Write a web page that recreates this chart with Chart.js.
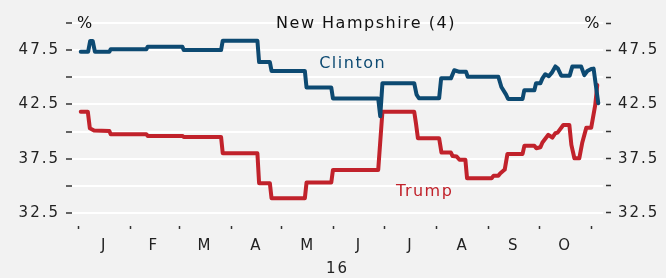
<!DOCTYPE html>
<html>
<head>
<meta charset="utf-8">
<script src="https://cdn.jsdelivr.net/npm/chart.js@4/dist/chart.umd.min.js"></script>
<style>
  html, body { margin: 0; padding: 0; background: #f2f2f2; }
  #wrap { width: 666px; height: 278px; }
</style>
</head>
<body>
<div id="wrap"><canvas id="chart"></canvas></div>
<script>
// days counted from 1 Jan 2016
var monthStarts = [0, 31, 60, 91, 121, 152, 182, 213, 244, 274, 305];
var monthMids   = [15.5, 45, 75.5, 106, 136.5, 167, 197.5, 228.5, 259, 289.5];
var monthLabels = ['J', 'F', 'M', 'A', 'M', 'J', 'J', 'A', 'S', 'O'];
var yTicks      = [32.5, 35, 37.5, 40, 42.5, 45, 47.5, 50];
var yLabels     = [32.5, 37.5, 42.5, 47.5];

var clintonDays = [1.6, 6.0, 7.2, 8.7, 10.0, 18.6, 19.4, 40.6, 41.4, 62.0, 62.8, 85.0, 86.0,
  106.6, 107.6, 114.0, 115.0, 134.8, 135.8, 150.5, 151.5, 178.4, 179.6, 180.9, 199.8, 201.2,
  202.6, 214.6, 215.8, 221.6, 223.6, 226.7, 230.6, 231.6, 249.8, 251.6, 254.4, 255.6, 264.2,
  265.2, 271.2, 272.2, 274.8, 276.0, 277.7, 279.8, 281.5, 283.7, 285.2, 287.2, 292.2, 293.8,
  299.0, 300.9, 302.7, 305.0, 306.4, 307.8, 309.2];
var clintonPct = [47.36, 47.36, 48.35, 48.35, 47.36, 47.36, 47.58, 47.58, 47.82, 47.82, 47.51, 47.51, 48.37,
  48.37, 46.4, 46.4, 45.58, 45.58, 44.05, 44.05, 43.05, 43.05, 41.4, 44.45, 44.45, 43.4,
  43.07, 43.07, 44.9, 44.9, 45.65, 45.5, 45.5, 45.05, 45.05, 44.1, 43.4, 43.0, 43.0,
  43.8, 43.8, 44.45, 44.45, 44.9, 45.28, 45.1, 45.4, 46.0, 45.8, 45.15, 45.15, 46.0,
  46.0, 45.2, 45.58, 45.76, 45.8, 44.2, 42.6];

var trumpDays = [1.6, 5.8, 7.0, 9.5, 18.6, 19.4, 40.6, 41.4, 62.0, 62.8, 85.0, 86.0, 106.6,
  107.6, 114.0, 115.0, 134.8, 135.8, 150.5, 151.5, 178.4, 180.9, 199.8, 200.8, 202.0, 214.6,
  216.0, 221.6, 222.6, 225.0, 226.7, 230.2, 231.2, 245.8, 247.0, 249.8, 251.0, 253.6, 255.2,
  264.2, 265.3, 271.2, 272.4, 274.8, 276.0, 279.5, 281.9, 283.7, 285.0, 288.4, 292.0, 293.2,
  295.0, 297.9, 299.7, 302.1, 305.0, 307.4, 308.6];
var trumpPct = [41.83, 41.83, 40.3, 40.1, 40.05, 39.75, 39.75, 39.6, 39.6, 39.5, 39.5, 38.0, 38.0,
  35.24, 35.24, 33.86, 33.86, 35.3, 35.3, 36.47, 36.47, 41.83, 41.83, 40.8, 39.38, 39.38,
  38.06, 38.06, 37.75, 37.7, 37.4, 37.4, 35.7, 35.7, 35.94, 35.94, 36.16, 36.5, 37.94,
  37.94, 38.7, 38.7, 38.46, 38.55, 39.0, 39.7, 39.45, 39.85, 39.9, 40.6, 40.6, 38.77,
  37.54, 37.54, 39.0, 40.36, 40.36, 42.45, 44.3];

var blue = '#0d4a72';
var red = '#c1222b';
var ink = '#222';
var fontName = '"DejaVu Sans", sans-serif';

function points(days, vals) {
  var out = [];
  for (var i = 0; i < days.length; i++) out.push({ x: days[i], y: vals[i] });
  return out;
}

var spacing = {
  id: 'spacing',
  beforeLayout: function(chart) { chart.ctx.letterSpacing = '2px'; },
  beforeDraw: function(chart) { chart.ctx.letterSpacing = '2px'; }
};

var texts = {
  id: 'texts',
  afterDraw: function(chart) {
    var ctx = chart.ctx;
    var xs = chart.scales.x, ys = chart.scales.y, area = chart.chartArea;
    ctx.save();
    ctx.letterSpacing = '1.5px';
    ctx.textBaseline = 'middle';
    ctx.font = '16px ' + fontName;
    ctx.fillStyle = '#111';
    ctx.textAlign = 'center';
    ctx.fillText('New Hampshire (4)', 366, ys.getPixelForValue(50) + 1);
    ctx.textAlign = 'left';
    ctx.fillText('%', area.left + 5, ys.getPixelForValue(50) + 1);
    ctx.textAlign = 'right';
    ctx.fillText('%', area.right - 2, ys.getPixelForValue(50) + 1);
    ctx.textAlign = 'center';
    ctx.fillStyle = blue;
    ctx.fillText('Clinton', xs.getPixelForValue(163.2), ys.getPixelForValue(46.2));
    ctx.fillStyle = red;
    ctx.fillText('Trump', xs.getPixelForValue(206), ys.getPixelForValue(34.44));
    ctx.restore();
  }
};

var tickFont = { family: fontName, size: 15 };

new Chart(document.getElementById('chart'), {
  type: 'line',
  data: {
    datasets: [
      { label: 'Clinton', data: points(clintonDays, clintonPct), borderColor: blue, borderWidth: 4,
        pointRadius: 0, tension: 0, borderJoinStyle: 'round', borderCapStyle: 'round' },
      { label: 'Trump', data: points(trumpDays, trumpPct), borderColor: red, borderWidth: 4,
        pointRadius: 0, tension: 0, borderJoinStyle: 'round', borderCapStyle: 'round' }
    ]
  },
  options: {
    responsive: true,
    maintainAspectRatio: false,
    animation: false,
    layout: { padding: { top: 23, left: 0, right: 0, bottom: 0 } },
    plugins: { legend: { display: false }, tooltip: { enabled: false } },
    scales: {
      x: {
        type: 'linear',
        min: -3.6,
        max: 312,
        afterBuildTicks: function(scale) {
          var all = monthStarts.concat(monthMids).sort(function(a, b) { return a - b; });
          scale.ticks = all.map(function(v) { return { value: v }; });
        },
        afterFit: function(scale) { scale.height = 52; },
        grid: {
          drawOnChartArea: false,
          tickLength: 3,
          tickWidth: 1.5,
          tickColor: function(c) {
            return monthStarts.indexOf(c.tick.value) >= 0 ? '#333' : 'rgba(0,0,0,0)';
          }
        },
        border: { display: false },
        ticks: {
          autoSkip: false,
          maxRotation: 0,
          padding: 8,
          color: ink,
          font: tickFont,
          callback: function(v) {
            var i = monthMids.indexOf(v);
            return i >= 0 ? monthLabels[i] : '';
          }
        },
        title: { display: true, text: '16', color: ink, font: tickFont, padding: { top: 0, bottom: 0 } }
      },
      y: {
        position: 'left',
        min: 31.3,
        max: 50,
        afterBuildTicks: function(scale) {
          scale.ticks = yTicks.map(function(v) { return { value: v }; });
        },
        afterFit: function(scale) { scale.width = 72; },
        grid: { color: '#ffffff', lineWidth: 2, tickColor: '#333', tickWidth: 1.5, tickLength: 6 },
        border: { display: false },
        ticks: {
          padding: 6,
          color: ink,
          font: tickFont,
          callback: function(v) { return yLabels.indexOf(v) >= 0 ? v.toFixed(1) : ''; }
        }
      },
      y2: {
        position: 'right',
        min: 31.3,
        max: 50,
        afterBuildTicks: function(scale) {
          scale.ticks = yTicks.map(function(v) { return { value: v }; });
        },
        afterFit: function(scale) { scale.width = 63; },
        grid: { drawOnChartArea: false, tickColor: '#333', tickWidth: 1.5, tickLength: 8,
                tickBorderDash: [0, 3, 5, 50] },
        border: { display: false },
        ticks: {
          padding: 7,
          color: ink,
          font: tickFont,
          callback: function(v) { return yLabels.indexOf(v) >= 0 ? v.toFixed(1) : ''; }
        }
      }
    }
  },
  plugins: [spacing, texts]
});
</script>
</body>
</html>
